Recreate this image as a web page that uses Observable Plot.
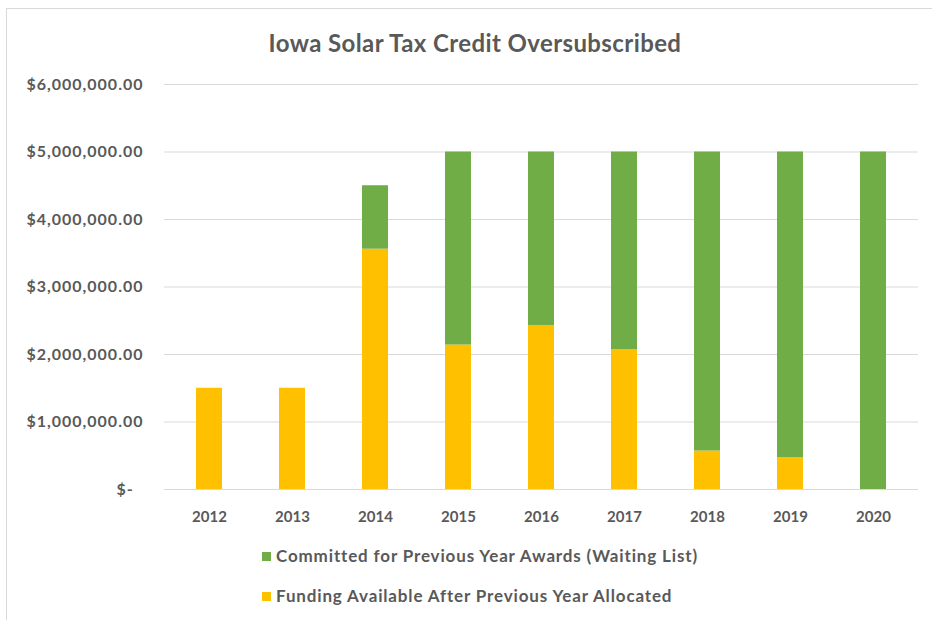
<!DOCTYPE html>
<html><head><meta charset="utf-8">
<script src="https://cdn.jsdelivr.net/npm/d3@7"></script>
<script src="https://cdn.jsdelivr.net/npm/@observablehq/plot@0.6"></script>
<style>
body{margin:0;background:#fff;font-family:Lato,"Open Sans",sans-serif;overflow:hidden;}
#frame{position:absolute;left:6px;top:8px;width:940px;height:640px;border-left:1px solid #d9d9d9;border-top:1px solid #d9d9d9;}
#title{position:absolute;left:0;width:950px;top:28px;text-align:center;font-weight:bold;font-size:24px;letter-spacing:0.4px;line-height:30px;color:#595959;}
#chart{position:absolute;left:0;top:60px;}
.leg{position:absolute;left:262px;font-size:17px;letter-spacing:0.85px;line-height:20px;color:#595959;font-weight:bold;white-space:nowrap;}
.leg span{display:inline-block;width:9px;height:9px;margin-right:5px;vertical-align:1px;}
</style></head>
<body>
<div id="frame"></div>
<div id="title">Iowa Solar Tax Credit Oversubscribed</div>
<div id="chart"></div>
<div class="leg" id="leg1" style="top:546px"></div>
<div class="leg" id="leg2" style="top:586px"></div>
<script>
const years = ["2012","2013","2014","2015","2016","2017","2018","2019","2020"];
const funding = [1500000,1500000,3560000,2140000,2430000,2070000,570000,470000,0];
const committed = [0,0,940000,2860000,2570000,2930000,4430000,4530000,5000000];
const committedLabel = "Committed for Previous Year Awards (Waiting List)";
const fundingLabel = "Funding Available After Previous Year Allocated";
const yTicks = [0,1000000,2000000,3000000,4000000,5000000,6000000];
const colors = ["#70AD47","#FFC000"];

const data = [];
years.forEach((y,i)=>{
  data.push({year:y, series:fundingLabel, value:funding[i]});
  data.push({year:y, series:committedLabel, value:committed[i]});
});

const fmt = d => d === 0 ? "$-\u00a0\u00a0" : "$" + d3.format(",.2f")(d);

const chart = Plot.plot({
  width: 932, height: 470,
  marginLeft: 164, marginRight: 14, marginTop: 24, marginBottom: 41,
  x: {domain: years, paddingInner: 0.69, paddingOuter: 0.345, label: null},
  y: {domain: [0, 6000000], label: null},
  color: {domain: [committedLabel, fundingLabel], range: colors},
  style: {fontFamily: "Lato, 'Open Sans', sans-serif", color: "#595959", background: "transparent"},
  marks: [
    Plot.gridY(yTicks, {stroke: "#d9d9d9", strokeOpacity: 1, strokeWidth: 1}),
    Plot.barY(data, {x: "year", y: "value", fill: "series", order: [fundingLabel, committedLabel]}),
    Plot.axisY(yTicks, {tickSize: 0, tickPadding: 21, tickFormat: fmt, fontSize: 16, fontWeight: "bold", fill: "#595959", letterSpacing: "1px"}),
    Plot.axisX({tickSize: 0, tickPadding: 22, fontSize: 15, fontWeight: "bold", fill: "#595959"})
  ]
});
chart.querySelectorAll("g[aria-label='y-axis tick label'] text").forEach(t => t.setAttribute("letter-spacing", "1px"));
document.getElementById("chart").appendChild(chart);
document.getElementById("leg1").innerHTML = `<span style="background:${colors[0]}"></span>${committedLabel}`;
document.getElementById("leg2").innerHTML = `<span style="background:${colors[1]}"></span>${fundingLabel}`;
</script>
</body></html>
